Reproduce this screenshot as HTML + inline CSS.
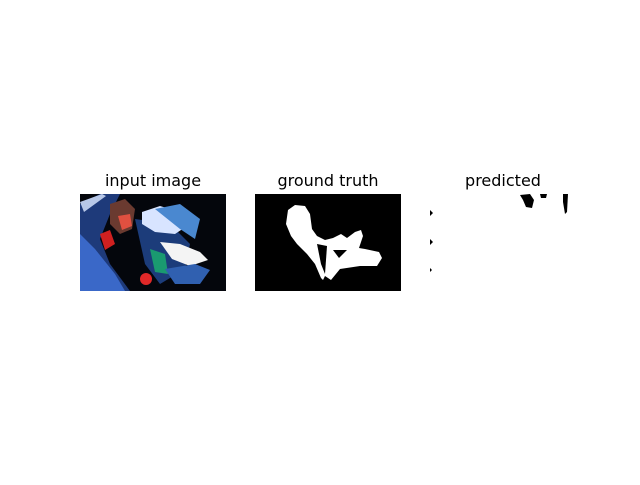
<!DOCTYPE html>
<html><head><style>
html,body{margin:0;padding:0;background:#fff;}
svg text{font-family:"DejaVu Sans","Liberation Sans",sans-serif;font-size:16px;}
</style></head><body>
<svg width="640" height="480" viewBox="0 0 640 480">
<rect width="640" height="480" fill="#fff"/>
<text x="153" y="186" text-anchor="middle">input image</text>
<text x="328" y="186" text-anchor="middle">ground truth</text>
<text x="503" y="186" text-anchor="middle">predicted</text>

<g transform="translate(80,194)">
  <rect width="146" height="97" fill="#04060c"/>
  <polygon points="0,10 20,0 40,0 30,20 20,45 30,70 50,97 0,97" fill="#1e3a7a"/>
  <polygon points="0,40 15,55 35,80 45,97 0,97" fill="#3a68c8"/>
  <polygon points="0,8 22,0 26,2 4,18" fill="#b8c8e8"/>
  <polygon points="30,10 45,5 55,15 52,35 40,40 30,30" fill="#6a3a30"/>
  <polygon points="38,22 50,20 52,32 42,36" fill="#e05040"/>
  <polygon points="55,25 90,30 110,50 105,75 80,90 65,70" fill="#1c3c7a"/>
  <polygon points="62,18 80,12 100,18 110,30 95,40 75,38 62,30" fill="#d8e4ff"/>
  <polygon points="75,15 100,10 120,25 115,45 100,35" fill="#4a88d0"/>
  <polygon points="80,48 100,50 120,58 128,66 110,72 92,65" fill="#f4f4f4"/>
  <polygon points="70,55 85,60 88,80 75,78" fill="#1a9a70"/>
  <polygon points="20,40 30,36 35,50 25,56" fill="#d02020"/>
  <circle cx="66" cy="85" r="6" fill="#e02828"/>
  <polygon points="85,75 115,70 130,76 120,90 95,90" fill="#3060b0"/>
</g>

<g transform="translate(255,194)">
  <rect width="146" height="97" fill="#000"/>
  <polygon points="33,16 40,11 50,12 55,20 57,35 62,42 70,46 78,44 86,40 92,44 100,38 106,36 108,42 104,54 110,55 124,58 127,64 122,72 105,72 85,75 76,86 70,82 68,86 66,84 60,70 52,60 42,50 36,42 31,30" fill="#fff"/>
  <polygon points="62,50 72,52 70,80 66,70" fill="#000"/>
  <polygon points="78,56 92,56 84,64" fill="#000"/>
</g>

<g transform="translate(430,194)">
  <rect width="146" height="97" fill="#fff"/>
  <polygon points="90,1 100,0 104,6 102,14 96,13 93,6" fill="#000"/>
  <polygon points="110,0 117,0 116,4 111,4" fill="#000"/>
  <polygon points="133,0 138,0 137,18 135,20 133,8" fill="#000"/>
  <polygon points="0,16 3,19 0,22" fill="#000"/>
  <polygon points="0,45 3,48 0,51" fill="#000"/>
  <polygon points="0,74 2,76 0,78" fill="#000"/>
</g>
</svg>
</body></html>
